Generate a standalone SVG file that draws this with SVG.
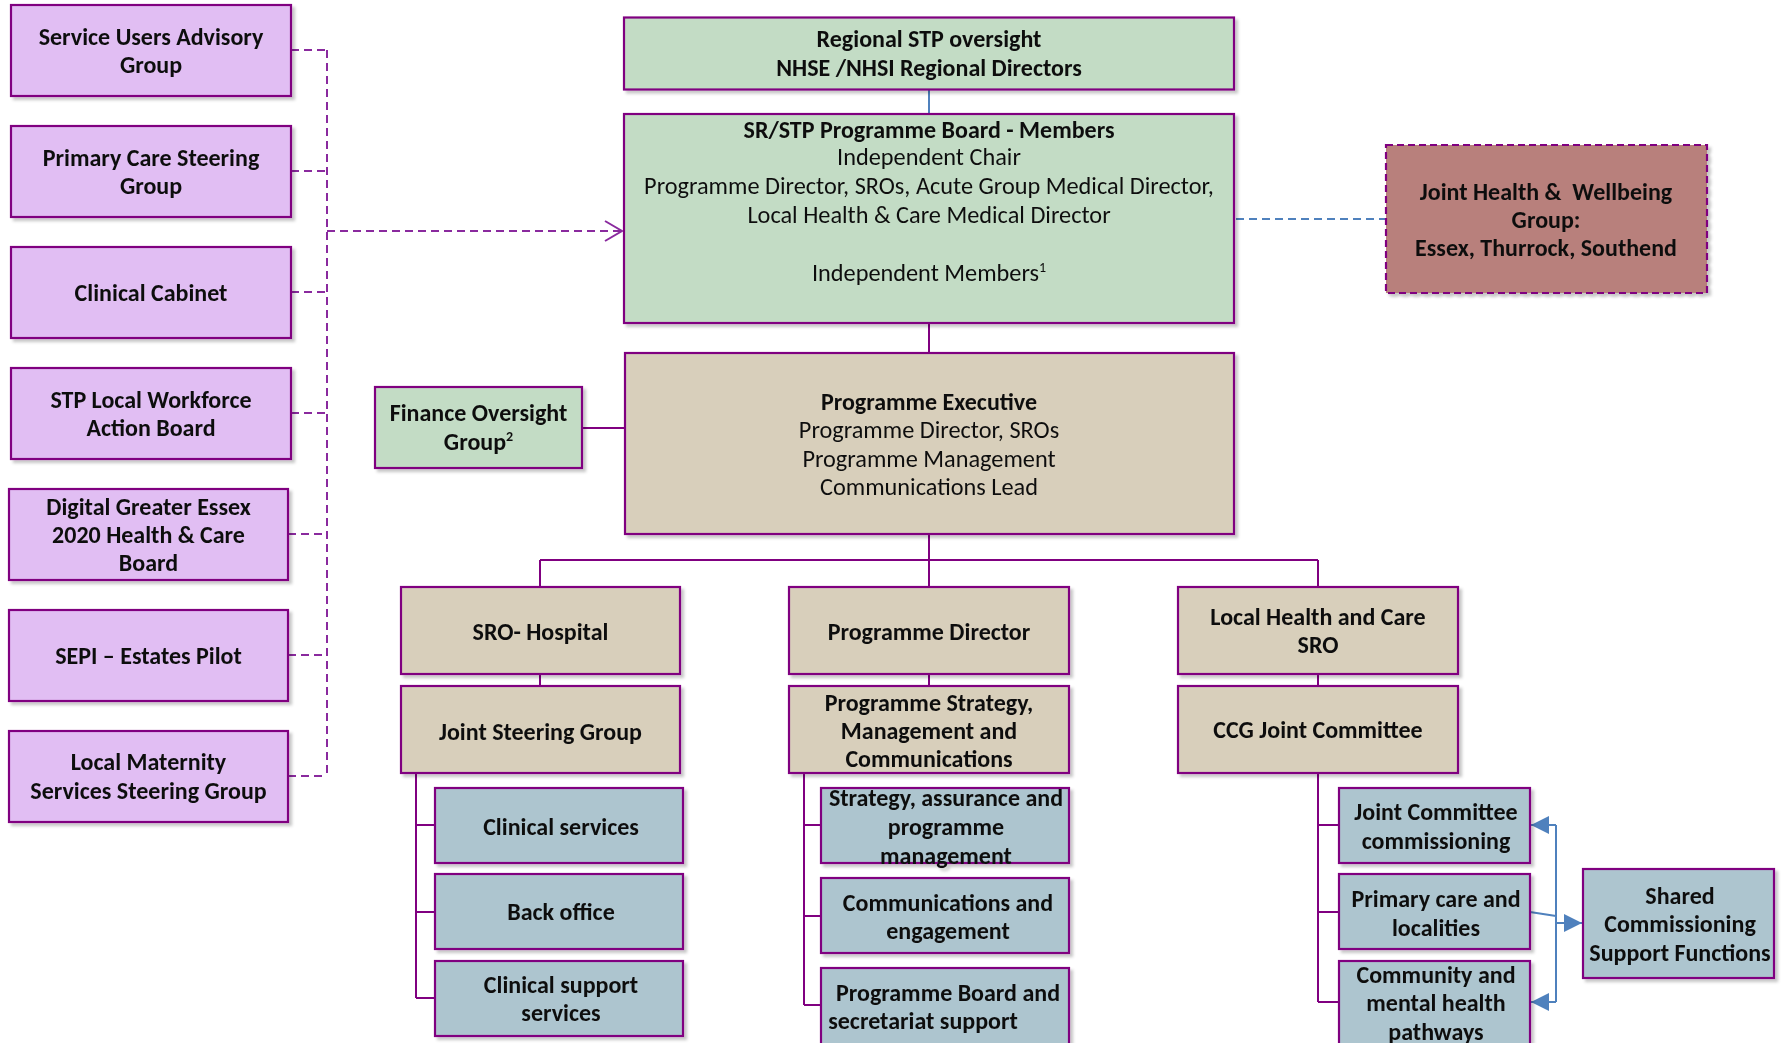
<svg xmlns="http://www.w3.org/2000/svg" width="1783" height="1043" viewBox="0 0 1783 1043">
<defs>
<style>
.t{font-family:Carlito,Lato,"Liberation Sans",sans-serif;font-size:24.3px;text-anchor:middle;fill:#111}
.b{font-weight:bold;font-size:24px}
.pu{fill:#E1BEF3;stroke:#800080;stroke-width:2.2}
.gr{fill:#C3DCC5;stroke:#800080;stroke-width:2.2}
.tn{fill:#D8CFBB;stroke:#800080;stroke-width:2.2}
.bl{fill:#ADC5CF;stroke:#800080;stroke-width:2.2}
.rd{fill:#B8807B;stroke:#800080;stroke-width:2.2;stroke-dasharray:7 4}
.c{fill:none;stroke:#800080;stroke-width:2}
.cd{fill:none;stroke:#8A2A9E;stroke-width:2;stroke-dasharray:8 5}
.cb{fill:none;stroke:#4F81BD;stroke-width:2}
.cbd{fill:none;stroke:#4F81BD;stroke-width:2;stroke-dasharray:8 5}
</style>
<filter id="sh" x="-5%" y="-5%" width="115%" height="120%">
<feDropShadow dx="3" dy="3" stdDeviation="1.5" flood-color="#000" flood-opacity="0.22"/>
</filter>
<marker id="oa" markerUnits="userSpaceOnUse" markerWidth="22" markerHeight="24" refX="19" refY="12" orient="auto">
<path d="M2,2 L19,12 L2,22" fill="none" stroke="#8A2A9E" stroke-width="2"/>
</marker>
<marker id="ba" markerUnits="userSpaceOnUse" markerWidth="20" markerHeight="20" refX="18" refY="10" orient="auto">
<path d="M0,1 L18,10 L0,19 Z" fill="#4F81BD"/>
</marker>
</defs>

<g id="connectors">
<path class="cb" d="M929,89 V114"/>
<path d="M929,293 V323" stroke="#bbb" stroke-width="1.5" fill="none"/>
<path class="c" d="M929,323 V353"/>
<path class="cbd" d="M1236,219 H1386"/>
<path class="cd" d="M291,50 H327 M291,171 H327 M291,292 H327 M291,413 H327 M288,534 H327 M288,655 H327 M288,776 H327 M327,50 V776"/>
<path class="cd" d="M327,231 H622" marker-end="url(#oa)"/>
<path class="c" d="M582,428 H625"/>
<path d="M625,428 H636" stroke="#C9A6B8" stroke-width="2" fill="none"/>
<path class="c" d="M929,534 V560 M540,560 H1318 M540,560 V587 M929,560 V587 M1318,560 V587"/>
<path class="c" d="M540,674 V686 M929,674 V686 M1318,674 V686"/>
<path class="c" d="M416,773 V998 M416,825 H435 M416,912 H435 M416,998 H435"/>
<path class="c" d="M804,771 V1005 M804,825 H821 M804,916 H821 M804,1005 H821" stroke-width="2.6"/>
<path class="c" d="M1318,773 V1002 M1318,825 H1339 M1318,912 H1339 M1318,1002 H1339"/>
<path class="cb" d="M1556,825 V1002 M1530,912 L1556,916"/>
<path class="cb" d="M1556,825 H1531" marker-end="url(#ba)"/>
<path class="cb" d="M1556,1002 H1531" marker-end="url(#ba)"/>
<path class="cb" d="M1556,923 H1582" marker-end="url(#ba)"/>
</g>

<g id="service-users" filter="url(#sh)"><rect class="pu" x="11" y="5" width="280" height="91"/>
<text class="t b" x="151" y="44.5">Service Users Advisory</text><text class="t b" x="151" y="73">Group</text></g>
<g id="primary-care-steering" filter="url(#sh)"><rect class="pu" x="11" y="126" width="280" height="91"/>
<text class="t b" x="151" y="165.5">Primary Care Steering</text><text class="t b" x="151" y="194">Group</text></g>
<g id="clinical-cabinet" filter="url(#sh)"><rect class="pu" x="11" y="247" width="280" height="91"/>
<text class="t b" x="151" y="300.5">Clinical Cabinet</text></g>
<g id="stp-workforce" filter="url(#sh)"><rect class="pu" x="11" y="368" width="280" height="91"/>
<text class="t b" x="151" y="407.5">STP Local Workforce</text><text class="t b" x="151" y="436">Action Board</text></g>
<g id="digital" filter="url(#sh)"><rect class="pu" x="9" y="489" width="279" height="91"/>
<text class="t b" x="148.5" y="514.7">Digital Greater Essex</text><text class="t b" x="148.5" y="543">2020 Health &amp; Care</text><text class="t b" x="148.5" y="571.3">Board</text></g>
<g id="sepi" filter="url(#sh)"><rect class="pu" x="9" y="610" width="279" height="91"/>
<text class="t b" x="148.5" y="663.5">SEPI – Estates Pilot</text></g>
<g id="maternity" filter="url(#sh)"><rect class="pu" x="9" y="731" width="279" height="91"/>
<text class="t b" x="148.5" y="770">Local Maternity</text><text class="t b" x="148.5" y="798.5">Services Steering Group</text></g>

<g id="regional-oversight" filter="url(#sh)"><rect class="gr" x="624" y="17.5" width="610" height="72"/>
<text class="t b" x="929" y="47.3">Regional STP oversight</text><text class="t b" x="929" y="76.3">NHSE /NHSI Regional Directors</text></g>
<g id="programme-board" filter="url(#sh)"><rect class="gr" x="624" y="114" width="610" height="209"/>
<text class="t b" x="929" y="138">SR/STP Programme Board - Members</text>
<text class="t" x="929" y="165.3">Independent Chair</text>
<text class="t" x="929" y="194">Programme Director, SROs, Acute Group Medical Director,</text>
<text class="t" x="929" y="223">Local Health &amp; Care Medical Director</text>
<text class="t" x="929" y="281">Independent Members<tspan font-size="14" dy="-9">1</tspan></text></g>
<g id="joint-health-wellbeing" filter="url(#sh)"><rect class="rd" x="1386" y="145" width="321" height="148"/>
<text class="t b" x="1546" y="199.7" xml:space="preserve">Joint Health &amp;  Wellbeing</text><text class="t b" x="1546" y="228">Group:</text><text class="t b" x="1546" y="256.3">Essex, Thurrock, Southend</text></g>
<g id="finance-oversight" filter="url(#sh)"><rect class="gr" x="375" y="387" width="207" height="81"/>
<text class="t b" x="478.5" y="421.3">Finance Oversight</text><text class="t b" x="478.5" y="449.7">Group<tspan font-size="14" dy="-9">2</tspan></text></g>
<g id="programme-executive" filter="url(#sh)"><rect class="tn" x="625" y="353" width="609" height="181"/>
<text class="t b" x="929" y="409.7">Programme Executive</text>
<text class="t" x="929" y="438">Programme Director, SROs</text>
<text class="t" x="929" y="467">Programme Management</text>
<text class="t" x="929" y="495.3">Communications Lead</text></g>

<g id="sro-hospital" filter="url(#sh)"><rect class="tn" x="401" y="587" width="279" height="87"/>
<text class="t b" x="540.5" y="639.7">SRO- Hospital</text></g>
<g id="programme-director" filter="url(#sh)"><rect class="tn" x="789" y="587" width="280" height="87"/>
<text class="t b" x="929" y="639.7">Programme Director</text></g>
<g id="local-health-sro" filter="url(#sh)"><rect class="tn" x="1178" y="587" width="280" height="87"/>
<text class="t b" x="1318" y="624.7">Local Health and Care</text><text class="t b" x="1318" y="653">SRO</text></g>

<g id="joint-steering" filter="url(#sh)"><rect class="tn" x="401" y="686" width="279" height="87"/>
<text class="t b" x="540.5" y="739.7">Joint Steering Group</text></g>
<g id="programme-strategy" filter="url(#sh)"><rect class="tn" x="789" y="686" width="280" height="87"/>
<text class="t b" x="929" y="710.7">Programme Strategy,</text><text class="t b" x="929" y="739">Management and</text><text class="t b" x="929" y="767.3">Communications</text></g>
<g id="ccg-joint" filter="url(#sh)"><rect class="tn" x="1178" y="686" width="280" height="87"/>
<text class="t b" x="1318" y="737.7">CCG Joint Committee</text></g>

<g id="clinical-services" filter="url(#sh)"><rect class="bl" x="435" y="788" width="248" height="75"/>
<text class="t b" x="561" y="834.7">Clinical services</text></g>
<g id="back-office" filter="url(#sh)"><rect class="bl" x="435" y="874" width="248" height="75"/>
<text class="t b" x="561" y="920.3">Back office</text></g>
<g id="clinical-support" filter="url(#sh)"><rect class="bl" x="435" y="961" width="248" height="75"/>
<text class="t b" x="561" y="993">Clinical support</text><text class="t b" x="561" y="1021.3">services</text></g>

<g id="strategy-assurance" filter="url(#sh)"><rect class="bl" x="821" y="788" width="248" height="75"/>
<text class="t b" x="946" y="806.3">Strategy, assurance and</text><text class="t b" x="946" y="835.3">programme</text><text class="t b" x="946" y="863.7">management</text></g>
<g id="communications" filter="url(#sh)"><rect class="bl" x="821" y="878" width="248" height="75"/>
<text class="t b" x="948" y="910.7">Communications and</text><text class="t b" x="948" y="938.7">engagement</text></g>
<g id="programme-board-support" filter="url(#sh)"><rect class="bl" x="821" y="968" width="248" height="80"/>
<text class="t b" x="948" y="1000.7">Programme Board and</text><text class="t b" x="923" y="1028.7">secretariat support</text></g>

<g id="joint-committee-commissioning" filter="url(#sh)"><rect class="bl" x="1339" y="788" width="191" height="75"/>
<text class="t b" x="1436" y="819.7">Joint Committee</text><text class="t b" x="1436" y="848.7">commissioning</text></g>
<g id="primary-care-localities" filter="url(#sh)"><rect class="bl" x="1339" y="874" width="191" height="75"/>
<text class="t b" x="1436" y="907">Primary care and</text><text class="t b" x="1436" y="936.3">localities</text></g>
<g id="community-mental-health" filter="url(#sh)"><rect class="bl" x="1339" y="961" width="191" height="85"/>
<text class="t b" x="1436" y="983">Community and</text><text class="t b" x="1436" y="1011.3">mental health</text><text class="t b" x="1436" y="1039.7">pathways</text></g>
<g id="shared-commissioning" filter="url(#sh)"><rect class="bl" x="1583" y="869" width="191" height="109"/>
<text class="t b" x="1680" y="903.7">Shared</text><text class="t b" x="1680" y="932.3">Commissioning</text><text class="t b" x="1680" y="961.3">Support Functions</text></g>
</svg>
